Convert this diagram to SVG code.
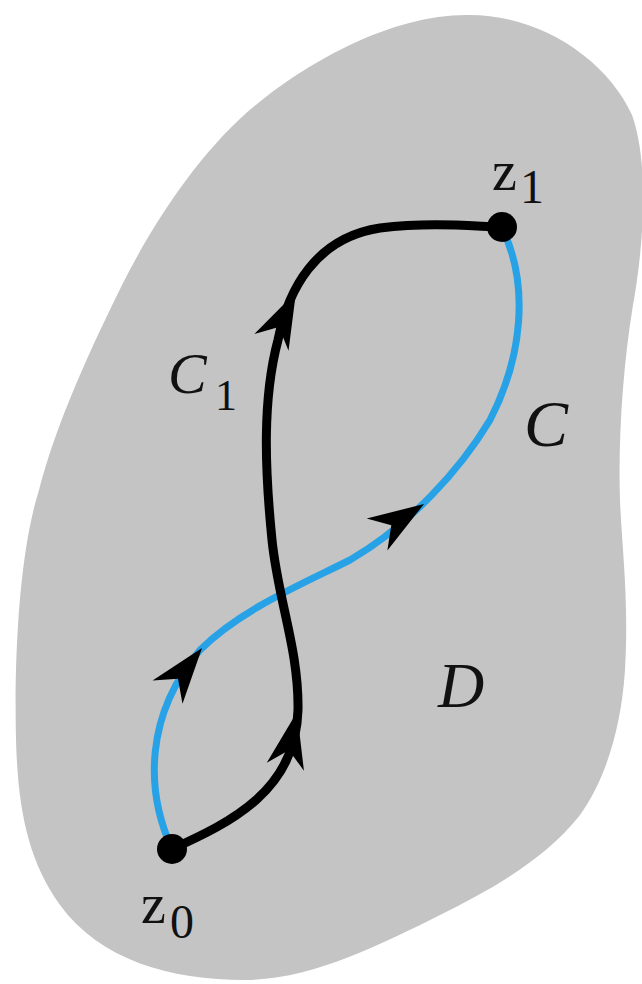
<svg xmlns="http://www.w3.org/2000/svg" width="642" height="984" viewBox="0 0 642 984">
<style>
.region{fill:#c4c4c4;stroke:none}
.blue{fill:none;stroke:#27a2e6;stroke-width:7;stroke-linecap:round}
.black{fill:none;stroke:#000;stroke-width:9;stroke-linecap:round}
text{font-family:'Liberation Serif','Times New Roman',Times,serif;fill:#111}
.it{font-style:italic}
</style>
<defs>
<path id="ah" d="M0,0 L-56,-19 L-39,0 L-56,19 Z" fill="#000"/>
</defs>
<g id="region-D">
<path class="region" d="M467,15 C540,14 607,60 632,115 C650,165 643,250 633,305 C623,365 618,440 620,500 C622,550 629,600 625,670 C621,730 605,780 580,815 C545,860 490,890 440,915 C380,945 310,980 245,980 C170,980 100,960 60,905 C28,860 18,810 16,740 C14,650 20,550 39,490 C55,430 80,370 123,283 C160,210 210,140 262,100 C310,62 390,15 467,15 Z"/>
</g>
<g id="connectors">
<path id="path-C" class="blue" d="M172,849 C145,790 145,715 200,650 C240,610 300,585 350,560 C410,525 460,470 490,420 C522,358 530,285 502,228"/>
<path id="path-C1" class="black" d="M172,849 C232,822 296,790 298,710 C299,650 278,600 272,540 C265,470 262,400 278,340 C288,290 315,238 380,228 C430,222 470,226 500,227"/>
<use href="#ah" transform="translate(297,712) rotate(-78)"/>
<use href="#ah" transform="translate(296,292) rotate(-64)"/>
<use href="#ah" transform="translate(202,648) rotate(-52)"/>
<use href="#ah" transform="translate(424,504) rotate(-33)"/>
</g>
<g id="node-z0">
<circle cx="172" cy="849" r="15" fill="#000"/>
<text x="141" y="923" font-size="56">z</text>
<text x="170" y="938" font-size="48">0</text>
</g>
<g id="node-z1">
<circle cx="502" cy="227" r="15" fill="#000"/>
<text x="492" y="190" font-size="56">z</text>
<text x="520" y="203" font-size="48">1</text>
</g>
<g id="label-C1">
<text class="it" x="168" y="393" font-size="58">C</text>
<text x="215" y="410" font-size="44">1</text>
</g>
<g id="label-C">
<text class="it" x="524" y="446" font-size="66">C</text>
</g>
<g id="label-D">
<text class="it" x="438" y="707" font-size="64">D</text>
</g>
</svg>
